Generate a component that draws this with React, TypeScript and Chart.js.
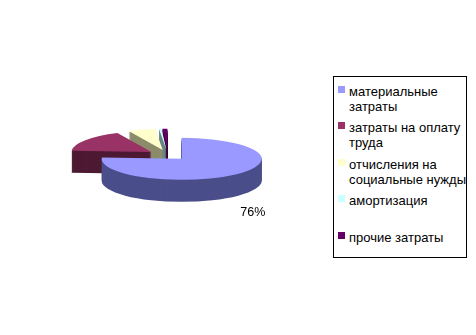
import React, { useEffect, useRef } from 'react';
import { Chart, registerables } from 'chart.js';

Chart.register(...registerables);

// ---- data ----
const categories: string[][] = [
  ['материальные', 'затраты'],
  ['затраты на оплату', 'труда'],
  ['отчисления на', 'социальные нужды'],
  ['амортизация'],
  ['прочие затраты'],
];
const values = [76, 17, 5.5, 0.5, 1];
const topColors = ['#9999FF', '#993366', '#FFFFCC', '#CCFFFF', '#660066'];
const sideColors = ['#4A4E8A', '#4D1A33', '#8C8C6B', '#6A8585', '#330033'];
const shownLabels = [true, false, false, false, false];

// ---- 3D look ----
const TILT = 0.2625;
const DEPTH = 22;
const EXPLODE = 20;

const pie3d = {
  id: 'pie3d',
  beforeDatasetDraw(chart: any, args: any) {
    const ctx: CanvasRenderingContext2D = chart.ctx;
    const meta = args.meta;
    const info = meta.data.map((el: any, i: number) => {
      const p = el.getProps(['x', 'y', 'startAngle', 'endAngle', 'outerRadius'], true);
      const mid = (p.startAngle + p.endAngle) / 2;
      return { el, i, p, ex: Math.cos(mid) * EXPLODE, ey: Math.sin(mid) * EXPLODE };
    });
    info.sort((a: any, b: any) => a.p.y + a.ey - (b.p.y + b.ey));
    for (const s of info) {
      const { p } = s;
      const cy = p.y;
      ctx.save();
      ctx.fillStyle = sideColors[s.i];
      for (let d = DEPTH; d >= 1; d -= 1) {
        ctx.save();
        ctx.translate(0, cy + d);
        ctx.scale(1, TILT);
        ctx.translate(s.ex, -cy + s.ey);
        ctx.beginPath();
        ctx.moveTo(p.x, p.y);
        ctx.arc(p.x, p.y, p.outerRadius, p.startAngle, p.endAngle);
        ctx.closePath();
        ctx.fill();
        ctx.restore();
      }
      ctx.restore();
      ctx.save();
      ctx.translate(0, cy);
      ctx.scale(1, TILT);
      ctx.translate(s.ex, -cy + s.ey);
      s.el.draw(ctx, chart.chartArea);
      ctx.restore();
    }
    return false;
  },
  afterDatasetsDraw(chart: any) {
    const ctx: CanvasRenderingContext2D = chart.ctx;
    const meta = chart.getDatasetMeta(0);
    const total = values.reduce((a, b) => a + b, 0);
    meta.data.forEach((el: any, i: number) => {
      if (!shownLabels[i]) return;
      const p = el.getProps(['x', 'y', 'startAngle', 'endAngle', 'outerRadius'], true);
      const mid = (p.startAngle + p.endAngle) / 2;
      const R = p.outerRadius * 1.3 + EXPLODE;
      const lx = p.x + Math.cos(mid) * R;
      const ly = p.y + Math.sin(mid) * R * TILT + DEPTH + 11;
      ctx.save();
      ctx.font = '12.5px "Liberation Sans", Arial, sans-serif';
      ctx.fillStyle = '#000';
      ctx.textAlign = 'center';
      ctx.textBaseline = 'middle';
      ctx.fillText(Math.round((values[i] / total) * 100) + '%', lx, ly + 1);
      ctx.restore();
    });
  },
};

export default function App() {
  const ref = useRef<HTMLCanvasElement | null>(null);
  useEffect(() => {
    if (!ref.current) return;
    const chart = new Chart(ref.current, {
      type: 'pie',
      data: {
        labels: categories.map((l) => l.join(' ')),
        datasets: [
          {
            data: values,
            backgroundColor: topColors,
            borderWidth: 0,
            radius: 80,
          } as any,
        ],
      },
      options: {
        responsive: false,
        animation: false,
        events: [],
        layout: { padding: { left: 0, top: 0, right: 140, bottom: 25 } },
        plugins: {
          legend: { display: false },
          tooltip: { enabled: false },
        },
      },
      plugins: [pie3d as any],
    });
    return () => chart.destroy();
  }, []);

  return (
    <div style={{ position: 'absolute', left: 0, top: 0, width: 476, height: 335, background: '#fff' }}>
      <canvas ref={ref} width={476} height={335} style={{ position: 'absolute', left: 0, top: 0 }} />
      <div
        style={{
          position: 'absolute',
          left: 333,
          top: 76,
          width: 134,
          height: 182,
          border: '1px solid #000',
          boxSizing: 'border-box',
          fontFamily: '"Liberation Sans", Arial, sans-serif',
          fontSize: 13,
          color: '#000',
          background: '#fff',
        }}
      >
        {categories.map((lines, i) => (
          <div key={i} style={{ position: 'absolute', left: 0, top: 6.5 + i * 36.5, width: 132 }}>
            <div
              style={{
                position: 'absolute',
                left: 4,
                top: 2,
                width: 7,
                height: 7,
                background: topColors[i],
              }}
            />
            <div style={{ position: 'absolute', left: 15, top: 0 }}>
              {lines.map((t, j) => (
                <div key={j} style={{ lineHeight: '15px', whiteSpace: 'nowrap' }}>
                  {t}
                </div>
              ))}
            </div>
          </div>
        ))}
      </div>
    </div>
  );
}
